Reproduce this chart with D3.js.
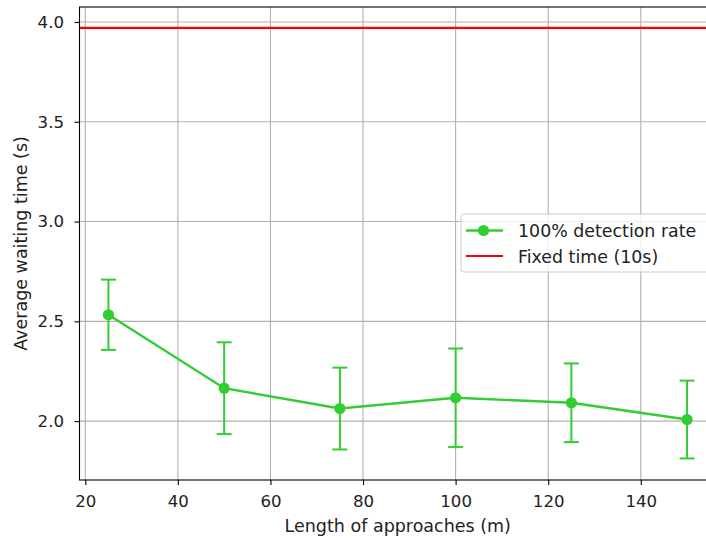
<!DOCTYPE html>
<html>
<head>
<meta charset="utf-8">
<script src="https://cdn.jsdelivr.net/npm/d3@7/dist/d3.min.js"></script>
<style>
  html, body { margin: 0; padding: 0; background: #fff; overflow: hidden; }
  svg { display: block; font-family: "DejaVu Sans", sans-serif; }
</style>
</head>
<body>
<svg id="chart" width="706" height="540"></svg>
<script>
// Approach lengths (m) and mean waiting time with its error half-width
const approachLengths = [25, 50, 75, 100, 125, 150];
const meanWait = [2.533, 2.165, 2.063, 2.117, 2.092, 2.008];
const waitError = [0.176, 0.230, 0.205, 0.247, 0.197, 0.195];
const fixedTimeWait = 3.97;

const xTicks = [20, 40, 60, 80, 100, 120, 140];
const yTicks = [2.0, 2.5, 3.0, 3.5, 4.0];

const seriesLabels = ["100% detection rate", "Fixed time (10s)"];
const green = "#32cd32";
const red = "#ff0000";
const tickFont = "16.6px";
const legendFont = "17.4px";
const labelFont = "17.5px";

const svg = d3.select("#chart");
const margin = { left: 79.5, top: 7, right: 716, bottom: 480 };

const x = d3.scaleLinear().domain([18.75, 156.25]).range([margin.left, margin.right]);
const y = d3.scaleLinear().domain([1.705, 4.075]).range([margin.bottom, margin.top]);

const plot = svg.append("g");

// grid
plot.append("g").selectAll("line").data(xTicks).join("line")
  .attr("x1", d => x(d)).attr("x2", d => x(d))
  .attr("y1", margin.top).attr("y2", margin.bottom)
  .attr("stroke", "#b0b0b0").attr("stroke-width", 1.1);
plot.append("g").selectAll("line").data(yTicks).join("line")
  .attr("x1", margin.left).attr("x2", margin.right)
  .attr("y1", d => y(d)).attr("y2", d => y(d))
  .attr("stroke", "#b0b0b0").attr("stroke-width", 1.1);

// fixed-time reference line
plot.append("line")
  .attr("x1", margin.left).attr("x2", margin.right)
  .attr("y1", y(fixedTimeWait)).attr("y2", y(fixedTimeWait))
  .attr("stroke", red).attr("stroke-width", 2.2);

// data series
const pts = approachLengths.map((d, i) => ({ x: d, y: meanWait[i], e: waitError[i] }));

plot.append("path")
  .datum(pts)
  .attr("fill", "none")
  .attr("stroke", green)
  .attr("stroke-width", 2.4)
  .attr("d", d3.line().x(d => x(d.x)).y(d => y(d.y)));

const err = plot.append("g").attr("stroke", green).attr("stroke-width", 2);
err.selectAll("line.v").data(pts).join("line").attr("class", "v")
  .attr("x1", d => x(d.x)).attr("x2", d => x(d.x))
  .attr("y1", d => y(d.y - d.e)).attr("y2", d => y(d.y + d.e));
err.selectAll("line.top").data(pts).join("line").attr("class", "top")
  .attr("x1", d => x(d.x) - 7.5).attr("x2", d => x(d.x) + 7.5)
  .attr("y1", d => y(d.y + d.e)).attr("y2", d => y(d.y + d.e));
err.selectAll("line.bot").data(pts).join("line").attr("class", "bot")
  .attr("x1", d => x(d.x) - 7.5).attr("x2", d => x(d.x) + 7.5)
  .attr("y1", d => y(d.y - d.e)).attr("y2", d => y(d.y - d.e));

plot.append("g").selectAll("circle").data(pts).join("circle")
  .attr("cx", d => x(d.x)).attr("cy", d => y(d.y)).attr("r", 5.6)
  .attr("fill", green);

// axes
const xAxis = d3.axisBottom(x).tickValues(xTicks).tickFormat(d3.format("d")).tickSize(5).tickPadding(10);
const yAxis = d3.axisLeft(y).tickValues(yTicks).tickFormat(d3.format(".1f")).tickSize(5).tickPadding(10.5);

const gx = svg.append("g").attr("transform", `translate(0,${margin.bottom})`).call(xAxis);
const gy = svg.append("g").attr("transform", `translate(${margin.left},0)`).call(yAxis);
[gx, gy].forEach(g => {
  g.select(".domain").remove();
  g.selectAll(".tick line").attr("stroke", "#000").attr("stroke-width", 1.1);
  g.selectAll(".tick text").attr("fill", "#222").style("font-size", tickFont).style("font-family", "DejaVu Sans");
});

// spines
svg.append("rect")
  .attr("x", margin.left).attr("y", margin.top)
  .attr("width", margin.right - margin.left).attr("height", margin.bottom - margin.top)
  .attr("fill", "none").attr("stroke", "#000").attr("stroke-width", 1.1);

// axis titles
svg.append("text")
  .attr("x", (margin.left + margin.right) / 2).attr("y", 531.5)
  .attr("text-anchor", "middle").attr("fill", "#222")
  .style("font-size", labelFont).text("Length of approaches (m)");
svg.append("text")
  .attr("transform", `translate(27,${(margin.top + margin.bottom) / 2}) rotate(-90)`)
  .attr("text-anchor", "middle").attr("fill", "#222")
  .style("font-size", labelFont).text("Average waiting time (s)");

// legend
const lg = svg.append("g").attr("transform", "translate(461,214)");
lg.append("rect")
  .attr("x", 0).attr("y", 0).attr("width", 250).attr("height", 58)
  .attr("rx", 3).attr("fill", "#fff").attr("fill-opacity", 0.8)
  .attr("stroke", "#ccc").attr("stroke-width", 1);
lg.append("line").attr("x1", 5).attr("x2", 42).attr("y1", 16.5).attr("y2", 16.5)
  .attr("stroke", green).attr("stroke-width", 2.4);
lg.append("circle").attr("cx", 22.5).attr("cy", 16.5).attr("r", 5.6).attr("fill", green);
lg.append("line").attr("x1", 5).attr("x2", 42).attr("y1", 42).attr("y2", 42)
  .attr("stroke", red).attr("stroke-width", 2.2);
lg.selectAll("text").data(seriesLabels).join("text")
  .attr("x", 57).attr("y", (d, i) => 22.5 + i * 26)
  .attr("fill", "#222").style("font-size", legendFont).text(d => d);
</script>
</body>
</html>
